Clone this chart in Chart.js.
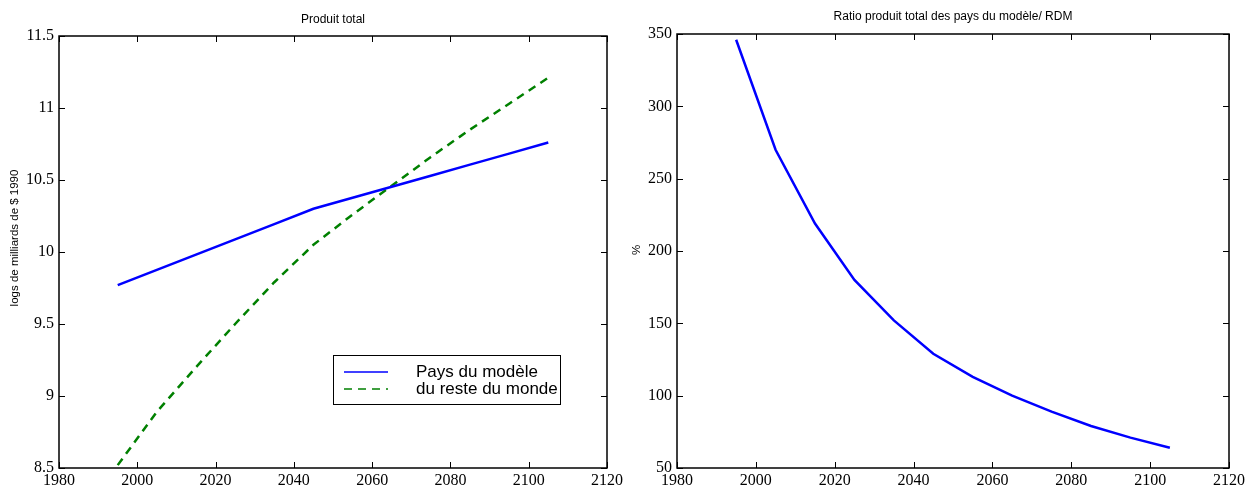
<!DOCTYPE html>
<html>
<head>
<meta charset="utf-8">
<script src="https://cdn.jsdelivr.net/npm/chart.js@4/dist/chart.umd.min.js"></script>
<style>
  html, body { margin: 0; padding: 0; background: #fff; }
  #wrap { position: relative; width: 1248px; height: 490px; overflow: hidden; }
  canvas { position: absolute; top: 0; display: block; }
</style>
</head>
<body>
<div id="wrap">
  <canvas id="chartProduit" width="626" height="490" style="left:0"></canvas>
  <canvas id="chartRatio" width="622" height="490" style="left:626px"></canvas>
</div>
<script>
(function () {
  'use strict';

  // années simulées (pas de 10 ans)
  const annees = [1995, 2005, 2015, 2025, 2035, 2045, 2055, 2065, 2075, 2085, 2095, 2105];
  // logs du produit total, milliards de $ 1990
  const paysModele = [9.77, 9.876, 9.982, 10.088, 10.194, 10.30, 10.377, 10.453, 10.53, 10.607, 10.683, 10.76];
  const resteMonde = [8.52, 8.89, 9.20, 9.50, 9.79, 10.05, 10.26, 10.46, 10.66, 10.85, 11.03, 11.21];
  // ratio pays du modèle / RDM, en %
  const ratioRdm = [346, 270, 219, 180, 152, 129, 113, 100, 89, 79, 71, 64];

  const xTicks = [1980, 2000, 2020, 2040, 2060, 2080, 2100, 2120];
  const yTicksProduit = [8.5, 9, 9.5, 10, 10.5, 11, 11.5];
  const yTicksRatio = [50, 100, 150, 200, 250, 300, 350];

  const SERIF = '"Liberation Serif", "Times New Roman", serif';
  const SANS = '"Liberation Sans", Arial, sans-serif';
  const TICK = 6;

  const pts = (xs, ys) => xs.map((x, i) => ({ x, y: ys[i] }));

  // cadre fermé + graduations vers l'intérieur sur les 4 côtés, titres
  const cadre = {
    id: 'cadre',
    afterDraw(chart, args, opts) {
      const { ctx, chartArea: a, scales } = chart;
      ctx.save();
      ctx.strokeStyle = '#000';
      ctx.lineWidth = 1;
      ctx.beginPath();
      scales.x.ticks.forEach(t => {
        const px = Math.round(scales.x.getPixelForValue(t.value)) + 0.5;
        ctx.moveTo(px, a.bottom); ctx.lineTo(px, a.bottom - TICK);
        ctx.moveTo(px, a.top); ctx.lineTo(px, a.top + TICK);
      });
      scales.y.ticks.forEach(t => {
        const py = Math.round(scales.y.getPixelForValue(t.value)) + 0.5;
        ctx.moveTo(a.left, py); ctx.lineTo(a.left + TICK, py);
        ctx.moveTo(a.right, py); ctx.lineTo(a.right - TICK, py);
      });
      ctx.stroke();
      ctx.lineWidth = 1.5;
      ctx.strokeRect(a.left, a.top, a.right - a.left, a.bottom - a.top);

      ctx.fillStyle = '#000';
      ctx.textAlign = 'center';
      ctx.textBaseline = 'middle';
      ctx.font = '12px ' + SANS;
      ctx.fillText(opts.titre, (a.left + a.right) / 2, opts.titreY);

      ctx.font = '11.5px ' + SANS;
      ctx.translate(opts.ylabelX, opts.ylabelY);
      ctx.rotate(-Math.PI / 2);
      ctx.fillText(opts.ylabel, 0, 0);
      ctx.restore();
    },
  };

  // légende encadrée dans la zone du graphique
  const legende = {
    id: 'legende',
    afterDraw(chart, args, opts) {
      if (!opts.box) return;
      const { ctx } = chart;
      const b = opts.box;
      ctx.save();
      ctx.fillStyle = '#fff';
      ctx.fillRect(b.x, b.y, b.w, b.h);
      ctx.strokeStyle = '#000';
      ctx.lineWidth = 1;
      ctx.strokeRect(b.x + 0.5, b.y + 0.5, b.w, b.h);
      ctx.font = '17px ' + SANS;
      ctx.textAlign = 'left';
      ctx.textBaseline = 'middle';
      chart.data.datasets.forEach((ds, i) => {
        const y = b.y + 17 + i * 17;
        ctx.strokeStyle = ds.borderColor;
        ctx.lineWidth = 1.5;
        ctx.setLineDash(ds.borderDash || []);
        ctx.beginPath();
        ctx.moveTo(b.x + 11, y);
        ctx.lineTo(b.x + 55, y);
        ctx.stroke();
        ctx.setLineDash([]);
        ctx.fillStyle = '#000';
        ctx.fillText(ds.label, b.x + 83, y);
      });
      ctx.restore();
    },
  };

  function axes(yMin, yMax, yTicks, yWidth) {
    return {
      x: {
        type: 'linear',
        min: xTicks[0],
        max: xTicks[xTicks.length - 1],
        afterBuildTicks: s => { s.ticks = xTicks.map(v => ({ value: v })); },
        afterFit: s => { s.height = 22; },
        grid: { display: false, drawTicks: false },
        border: { display: false },
        ticks: {
          color: '#000',
          font: { family: SERIF, size: 16 },
          padding: 3,
          maxRotation: 0,
          callback: v => String(v),
        },
      },
      y: {
        type: 'linear',
        min: yMin,
        max: yMax,
        afterBuildTicks: s => { s.ticks = yTicks.map(v => ({ value: v })); },
        afterFit: s => { s.width = yWidth; },
        grid: { display: false, drawTicks: false },
        border: { display: false },
        ticks: {
          color: '#000',
          font: { family: SERIF, size: 16 },
          padding: 5,
          callback: v => String(v),
        },
      },
    };
  }

  const lineStyle = {
    pointRadius: 0,
    borderWidth: 2.5,
    tension: 0,
    fill: false,
  };

  new Chart(document.getElementById('chartProduit'), {
    type: 'line',
    data: {
      datasets: [
        {
          ...lineStyle,
          label: 'Pays du modèle',
          data: pts(annees, paysModele),
          borderColor: '#0000ff',
        },
        {
          ...lineStyle,
          label: 'du reste du monde',
          data: pts(annees, resteMonde),
          borderColor: '#008000',
          borderDash: [8, 6],
        },
      ],
    },
    options: {
      responsive: false,
      animation: false,
      layout: { padding: { left: 0, top: 36, right: 19, bottom: 0 } },
      plugins: {
        legend: { display: false },
        tooltip: { enabled: false },
        cadre: { titre: 'Produit total', titreY: 20, ylabel: 'logs de milliards de $ 1990', ylabelX: 15, ylabelY: 238 },
        legende: { box: { x: 333, y: 355, w: 227, h: 49 } },
      },
      scales: axes(8.5, 11.5, yTicksProduit, 59),
    },
    plugins: [cadre, legende],
  });

  new Chart(document.getElementById('chartRatio'), {
    type: 'line',
    data: {
      datasets: [{
        ...lineStyle,
        label: 'Ratio',
        data: pts(annees, ratioRdm),
        borderColor: '#0000ff',
      }],
    },
    options: {
      responsive: false,
      animation: false,
      layout: { padding: { left: 0, top: 34, right: 19, bottom: 0 } },
      plugins: {
        legend: { display: false },
        tooltip: { enabled: false },
        cadre: { titre: 'Ratio produit total des pays du modèle/ RDM', titreY: 17, ylabel: '%', ylabelX: 11, ylabelY: 250 },
      },
      scales: axes(50, 350, yTicksRatio, 51),
    },
    plugins: [cadre],
  });

})();
</script>
</body>
</html>
